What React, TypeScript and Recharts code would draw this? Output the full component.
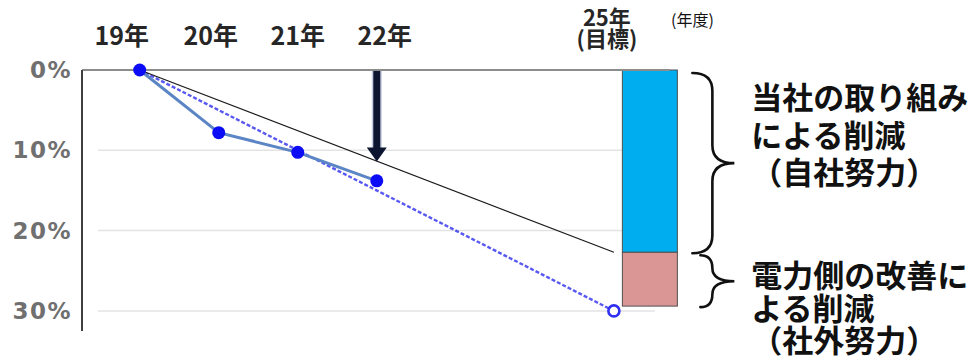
import React from 'react';
import { ComposedChart, Line, Bar, XAxis, YAxis, ReferenceLine, CartesianGrid } from 'recharts';

// Fiscal years (two-digit) and reduction rates in percent
const fiscalYears = [19, 20, 21, 22, 23, 24, 25];
const actualReduction = [0, 7.8, 10.25, 13.8, null, null, null];
const targetPace = [0, null, null, null, null, null, 30];
const ownEffortPace = [0, null, null, null, null, null, 22.7];
const ownEffortTarget = [null, null, null, null, null, null, 22.7];
const externalTarget = [null, null, null, null, null, null, 6.7];

const yearTicks = [19, 20, 21, 22, 25];
const yearLabels: Record<number, string[]> = {
  19: ['19年'],
  20: ['20年'],
  21: ['21年'],
  22: ['22年'],
  25: ['25年', '(目標)'],
};
const percentTicks = [0, 10, 20, 30];
const gapArrowYear = 22;
const gapArrowDepth = 11.4;

const ownEffortNote = ['当社の取り組み', 'による削減', '（自社努力）'];
const externalNote = ['電力側の改善に', 'よる削減', '（社外努力）'];

const rows = fiscalYears.map((year, i) => ({
  year,
  actual: actualReduction[i],
  pace: targetPace[i],
  ownPace: ownEffortPace[i],
  own: ownEffortTarget[i],
  external: externalTarget[i],
}));

// layout / style constants
const W = 974;
const H = 361;
const X_DOMAIN: [number, number] = [18.27, 25.71];
const GRID_INSET_LEFT = 16;
const GRID_INSET_RIGHT = 15;
const BAR_SHIFT = 36;
const LABEL_SHIFT: Record<number, number> = { 19: -18, 20: -8, 21: 0, 22: 8, 25: -7 };
const JP = '"Noto Sans CJK JP", "Noto Sans", sans-serif';

const YearTick = (props: any) => {
  const { x, y, payload } = props;
  const lines = yearLabels[payload.value] ?? [String(payload.value)];
  const cx = x + (LABEL_SHIFT[payload.value] ?? 0);
  const stacked = lines.length > 1;
  return (
    <text
      x={cx}
      y={y + (stacked ? -54 : -36)}
      textAnchor="middle"
      dominantBaseline="central"
      fontFamily={JP}
      fontWeight={700}
      fontSize={stacked ? 22 : 25}
      fill="#262626"
    >
      {lines.map((t, i) => (
        <tspan key={t} x={cx} dy={i === 0 ? 0 : 21}>
          {t}
        </tspan>
      ))}
    </text>
  );
};

// horizontal grid rows, held in from both plot edges; the plot's bottom edge gets no row
const GridRow = (props: any) => {
  const { x1, x2, y1, y2, index, y, height } = props;
  if (y != null && height != null && Math.abs(y1 - (y + height)) < 1) return <g key={`grid-${index}`} />;
  return (
    <line
      key={`grid-${index}-${y1}`}
      x1={x1 + GRID_INSET_LEFT}
      x2={x2 - GRID_INSET_RIGHT}
      y1={y1}
      y2={y2}
      stroke="#e3e3e3"
      strokeWidth={1.5}
    />
  );
};

const bracePath = (x0: number, y0: number, y1: number, stem: number, tip: number) => {
  const ym = (y0 + y1) / 2;
  const r = Math.min(18, (y1 - y0) / 4);
  const sx = x0 + stem;
  const tx = x0 + tip;
  return [
    `M ${x0} ${y0}`,
    `Q ${sx} ${y0} ${sx} ${y0 + r}`,
    `L ${sx} ${ym - r}`,
    `Q ${sx} ${ym} ${tx} ${ym}`,
    `Q ${sx} ${ym} ${sx} ${ym + r}`,
    `L ${sx} ${y1 - r}`,
    `Q ${sx} ${y1} ${x0} ${y1}`,
  ].join(' ');
};

const makeSegment = (note: string[], fill: string, firstLine: number, lineGap: number, braceIn: number) =>
  (props: any) => {
    const { x, y, width, height } = props;
    if (!width || !height || x == null || y == null) return <g />;
    const top = Math.min(y, y + height);
    const h = Math.abs(height);
    const left = x + BAR_SHIFT;
    const right = left + width;
    const tx = right + 74;
    return (
      <g>
        <rect x={left} y={top} width={width} height={h} fill={fill} stroke="#505050" strokeWidth={1} />
        <path
          d={bracePath(right + 15 + braceIn, top + 3, top + h + 1, 20 - braceIn, 42 - braceIn)}
          fill="none"
          stroke="#111"
          strokeWidth={2.6}
          strokeLinecap="round"
        />
        <text
          x={tx}
          y={top + firstLine}
          dominantBaseline="central"
          fontFamily={JP}
          fontWeight={700}
          fontSize={31}
          fill="#111"
        >
          {note.map((t, i) => (
            <tspan key={t} x={tx} dy={i === 0 ? 0 : lineGap}>
              {t}
            </tspan>
          ))}
        </text>
      </g>
    );
  };

const OwnSegment = makeSegment(ownEffortNote, '#00aeef', 25, 37.5, 0);
const ExternalSegment = makeSegment(externalNote, '#d99694', 21, 32.5, 8);

const ArrowShape = (props: any) => {
  const { x1, y1, x2, y2 } = props;
  if (x1 == null || y1 == null) return <g />;
  const head = 14;
  return (
    <g>
      <line x1={x1} y1={y1} x2={x2} y2={y2 - head + 1} stroke="#5a6fa8" strokeOpacity={0.35} strokeWidth={10} />
      <line x1={x1} y1={y1} x2={x2} y2={y2 - head + 1} stroke="#0c1530" strokeWidth={7} />
      <polygon points={`${x2 - 10},${y2 - head} ${x2 + 10},${y2 - head} ${x2},${y2}`} fill="#0c1530" />
    </g>
  );
};

const TargetEndDot = (props: any) => {
  const { cx, cy, index, value } = props;
  if (index !== fiscalYears.length - 1 || value == null || cx == null) return <g key={`pd-${index}`} />;
  return <circle key={`pd-${index}`} cx={cx} cy={cy} r={5.5} fill="#fff" stroke="#2f2ff5" strokeWidth={2.6} />;
};

export default function App() {
  return (
    <div style={{ position: 'absolute', left: 0, top: 0, width: W, height: H, background: '#fff' }}>
      <ComposedChart width={W} height={H} data={rows} margin={{ top: 10, right: 304, bottom: 30, left: 0 }}>
        <CartesianGrid vertical={false} horizontal={GridRow} />
        <XAxis
          dataKey="year"
          type="number"
          orientation="top"
          domain={X_DOMAIN}
          ticks={yearTicks}
          interval={0}
          height={60}
          tickLine={false}
          tickSize={0}
          tickMargin={0}
          axisLine={{ stroke: '#8c8c8c', strokeWidth: 2 }}
          tick={<YearTick />}
        />
        <YAxis
          type="number"
          reversed
          domain={[0, 32.5]}
          ticks={percentTicks}
          interval={0}
          width={82}
          tickLine={false}
          tickSize={0}
          tickMargin={10}
          axisLine={{ stroke: '#3f3f3f', strokeWidth: 2 }}
          tickFormatter={(v: number) => `${v}%`}
          tick={{ fill: '#707070', fontSize: 23, fontWeight: 700, fontFamily: '"DejaVu Sans", sans-serif', letterSpacing: 1.5 }}
        />
        <Bar dataKey="own" stackId="target" barSize={55} shape={OwnSegment} isAnimationActive={false} />
        <Bar dataKey="external" stackId="target" barSize={55} shape={ExternalSegment} isAnimationActive={false} />
        <Line
          dataKey="pace"
          connectNulls
          stroke="#3c3cf0"
          strokeOpacity={0.85}
          strokeWidth={2.4}
          strokeDasharray="4 2"
          dot={TargetEndDot}
          activeDot={false}
          isAnimationActive={false}
        />
        <Line
          dataKey="ownPace"
          connectNulls
          stroke="#1a1a1a"
          strokeWidth={1.2}
          dot={false}
          activeDot={false}
          isAnimationActive={false}
        />
        <Line
          dataKey="actual"
          stroke="#5b85c4"
          strokeWidth={3}
          dot={{ r: 6.5, fill: '#0b0bf5', stroke: '#0b0bf5', strokeWidth: 0 }}
          activeDot={false}
          isAnimationActive={false}
        />
        <ReferenceLine
          segment={[{ x: gapArrowYear, y: 0 }, { x: gapArrowYear, y: gapArrowDepth }]}
          shape={ArrowShape}
        />
      </ComposedChart>
      <span
        style={{
          position: 'absolute',
          left: 671,
          top: 8,
          fontFamily: JP,
          fontSize: 16,
          lineHeight: '22px',
          color: '#111',
          whiteSpace: 'nowrap',
        }}
      >
        (年度)
      </span>
    </div>
  );
}
